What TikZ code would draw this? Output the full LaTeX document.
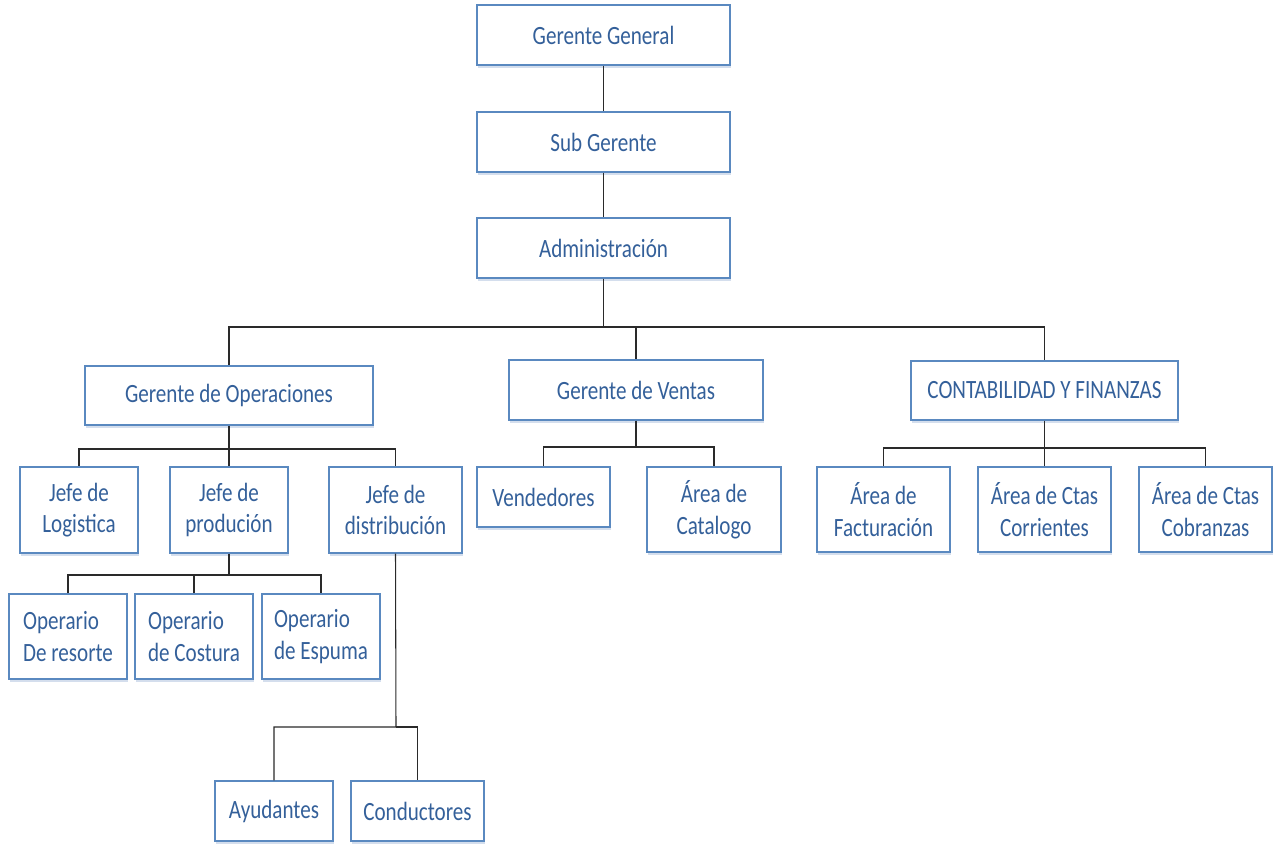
\documentclass[tikz,border=0pt]{standalone}
\usepackage{fontspec}
\setmainfont{Carlito}[FakeStretch=0.8]
\usetikzlibrary{shadows}
\definecolor{boxblue}{HTML}{5A89C0}
\definecolor{txtblue}{HTML}{34609A}
\definecolor{shadeblue}{HTML}{C9D6E8}
\definecolor{linegray}{HTML}{2A2A2A}
\tikzset{
	orgbox/.style={draw=boxblue,line width=0.8pt,fill=white,text=txtblue,align=center,inner sep=0pt,
		font=\fontsize{15pt}{18pt}\selectfont,
		drop shadow={shadow xshift=0.02cm,shadow yshift=-0.05cm,fill=shadeblue,opacity=0.8}},
	leftbox/.style={orgbox,align=left},
	link/.style={draw=linegray,line width=0.6pt}
}
\begin{document}
\begin{tikzpicture}[x=0.02cm,y=-0.02cm]
			\useasboundingbox (0,0) rectangle (1275,843);
			\begin{scope}[every node/.style={orgbox}]
				\node[minimum width=5.06cm,minimum height=1.2cm] (GG) at (603.5,35) {Gerente General};
				\node[minimum width=5.06cm,minimum height=1.2cm] (SG) at (603.5,142) {Sub Gerente};
				\node[minimum width=5.06cm,minimum height=1.2cm] (AD) at (603.5,248) {Administración};
				
				\node[minimum width=5.76cm,minimum height=1.18cm] (GO) at (229,395.5) {Gerente de Operaciones};
				\node[minimum width=5.08cm,minimum height=1.2cm] (GV) at (636,390) {Gerente de Ventas};
				\node[minimum width=5.34cm,minimum height=1.18cm] (CF) at (1044.5,390.5) {CONTABILIDAD Y FINANZAS};
				
				\node[minimum width=2.36cm,minimum height=1.72cm] (JL) at (79,510) {Jefe de\\Logistica};
				\node[minimum width=2.36cm,minimum height=1.72cm] (JP) at (229,510) {Jefe de\\produción};
				\node[minimum width=2.66cm,minimum height=1.72cm] (JD) at (395.5,510) {Jefe de\\distribución};
				
				\node[minimum width=2.66cm,minimum height=1.2cm] (VE) at (543.5,497) {Vendedores};
				\node[minimum width=2.68cm,minimum height=1.7cm] (AC) at (714,509.5) {Área de\\Catalogo};
				
				\node[minimum width=2.66cm,minimum height=1.7cm] (AF) at (883.5,509.5) {Área de\\Facturación};
				\node[minimum width=2.66cm,minimum height=1.7cm] (ACC) at (1044.5,509.5) {Área de Ctas\\Corrientes};
				\node[minimum width=2.66cm,minimum height=1.7cm] (ACB) at (1205.5,509.5) {Área de Ctas\\Cobranzas};
			\end{scope}
			
			\begin{scope}[every node/.style={leftbox}]
				\node[minimum width=2.36cm,minimum height=1.7cm] (OR) at (68,636.5) {Operario\\De resorte};
				\node[minimum width=2.36cm,minimum height=1.7cm] (OC) at (194,636.5) {Operario\\de Costura};
				\node[minimum width=2.36cm,minimum height=1.7cm] (OE) at (321,636.5) {Operario\\de Espuma};
				
				\node[minimum width=2.36cm,minimum height=1.2cm] (AY) at (274,811) {Ayudantes};
				\node[minimum width=2.66cm,minimum height=1.2cm] (CO) at (417.5,811) {Conductores};
			\end{scope}
			
			% buses
			\coordinate (busA) at (603.5,327);
			\coordinate (busO) at (229,449);
			\coordinate (busV) at (636,447);
			\coordinate (busC) at (1044.5,448);
			\coordinate (busP) at (229,575);
			\coordinate (busD) at (396,727);
			
			\begin{scope}[every path/.style={link}]
				\path (GG) -- (SG);
				\path (SG) -- (AD);
				\path (AD.south) -- (busA) -| (GO.north);
				\path (busA) -| (GV.north);
				\path (busA) -| (CF.north);
				
				\path (GO.south) -- (busO) -| (JL.north);
				\path (busO) -- (JP.north);
				\path (busO) -| (JD.north);
				
				\path (GV.south) -- (busV) -| (VE.north);
				\path (busV) -| (AC.north);
				
				\path (CF.south) -- (busC) -| (AF.north);
				\path (busC) -- (ACC.north);
				\path (busC) -| (ACB.north);
				
				\path (JP.south) -- (busP) -| (OR.north);
				\path (busP) -| (OC.north);
				\path (busP) -| (OE.north);
				
				\path (JD.south) -- (busD) -| (AY.north);
				\path (busD) -| (CO.north);
			\end{scope}
		\end{tikzpicture}
\end{document}
